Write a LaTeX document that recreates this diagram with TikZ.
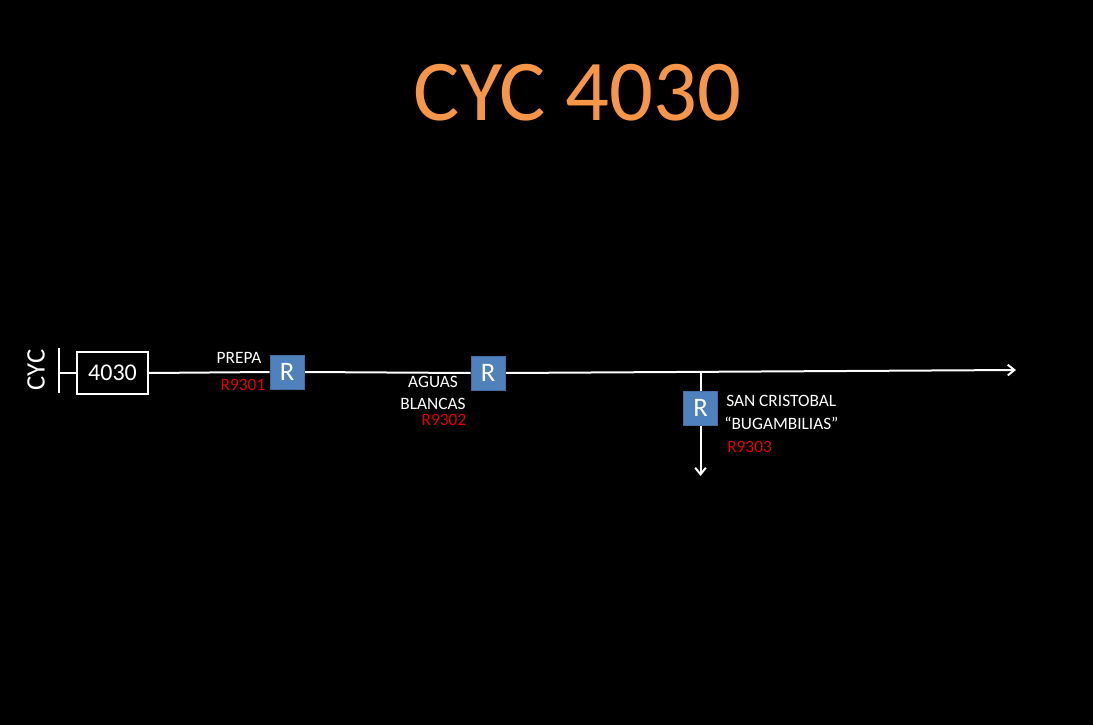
\documentclass[tikz,border=0pt]{standalone}
\usepackage{fontspec}
\setmainfont{Carlito}
\usetikzlibrary{positioning,arrows.meta,backgrounds}
\definecolor{TitleOrange}{RGB}{247,150,70}
\definecolor{RouteBlue}{RGB}{79,129,189}
\definecolor{CodeRed}{RGB}{226,0,0}
\tikzset{
  rbox/.style={draw=RouteBlue!85!black,fill=RouteBlue,minimum size=25.5pt,
               inner sep=0pt,text=white,font=\fontsize{20}{20}\selectfont},
  nbox/.style={draw=white,fill=black,minimum width=53.25pt,minimum height=31.5pt,
               inner sep=0pt,text=white,font=\fontsize{18}{18}\selectfont,line width=0.8pt},
  lbl/.style={text=white,inner sep=0pt,font=\fontsize{13}{13}\selectfont},
  code/.style={text=CodeRed,inner sep=0pt,font=\fontsize{13}{13}\selectfont},
  wire/.style={white,line width=1.5pt},
  wirea/.style={white,line width=1.5pt,-{Straight Barb[length=5pt,width=8pt]}},
}
\begin{document}
\begin{tikzpicture}[x=0.75pt,y=-0.75pt]
    \useasboundingbox (0,0) rectangle (1093,725);

    % Title
    \node[text=TitleOrange,font=\fontsize{65}{65}\selectfont,inner sep=0pt] (title) at (577.5,93) {CYC 4030};

    % Route start
    \node[text=white,rotate=90,inner sep=0pt,font=\fontsize{20}{20}\selectfont] (cyc) at (36,370) {CYC};
    \coordinate (bartop) at (59,348);
    \coordinate (barbot) at (59,393);
    \coordinate (barmid) at (59,373);
    \node[nbox] (num) at (112.5,373) {4030};

    % Stops
    \node[rbox] (r1) at (287,372) {R};
    \node[rbox] (r2) at (488,373) {R};
    \node[rbox] (r3) at (700.5,408) {R};
    \coordinate (lineend) at (1016,370);
    \coordinate (branch) at (700.5,371);
    \coordinate (downend) at (700.5,476);

    % Background and lines
    \begin{scope}[on background layer]
        \fill[black] (0,0) rectangle (1093,725);
        \draw[wire] (bartop) -- (barbot);
        \draw[wire] (barmid) -- (num.west);
        \draw[wire] (num.east) -- (r1.west);
        \draw[wire] (r1.east) -- (r2.west);
        \draw[wirea] (r2.east) -- (lineend);
        \draw[wirea] (branch) -- (downend);
    \end{scope}

    % Labels
    \node[lbl] (prepa) at (239,358) {PREPA};
    \node[code] (c1) at (243,385) {R9301};
    \node[lbl] (aguas) at (433,382) {AGUAS};
    \node[lbl] (blancas) at (433,404) {BLANCAS};
    \node[code] (c2) at (444,420) {R9302};
    \node[lbl,anchor=west] (sancris) at (726,401) {SAN CRISTOBAL};
    \node[lbl,anchor=west] (bugam) at (724,423) {``BUGAMBILIAS''};
    \node[code,anchor=west] (c3) at (727,447) {R9303};
\end{tikzpicture}
\end{document}
